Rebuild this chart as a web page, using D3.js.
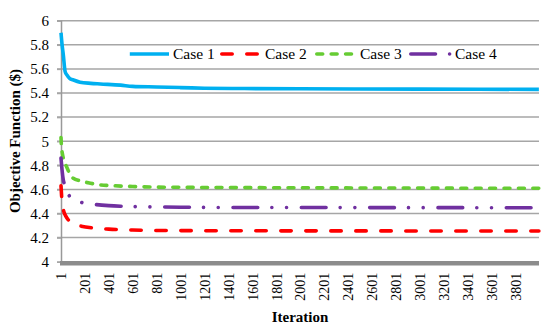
<!DOCTYPE html>
<html><head><meta charset="utf-8">
<script src="https://cdn.jsdelivr.net/npm/d3@7"></script>
<style>body{margin:0;background:#fff}svg{display:block}</style>
</head><body><svg id="c" width="550" height="332"></svg>
<script>
const seriesNames = ["Case 1", "Case 2", "Case 3", "Case 4"];
const case1Iter = [1, 10, 20, 35, 50, 75, 100, 160, 250, 330, 500, 600, 800, 1000, 1200, 1500, 2000, 2500, 3000, 3500, 4000];
const case1Vals = [5.90, 5.80, 5.72, 5.58, 5.55, 5.52, 5.51, 5.49, 5.48, 5.475, 5.465, 5.455, 5.45, 5.445, 5.44, 5.437, 5.435, 5.433, 5.432, 5.431, 5.43];
const case2Iter = [1, 8, 15, 25, 40, 60, 100, 170, 270, 400, 600, 1000, 2000, 4000];
const case2Vals = [4.63, 4.52, 4.46, 4.415, 4.38, 4.35, 4.315, 4.295, 4.28, 4.27, 4.263, 4.258, 4.256, 4.255];
const case3Iter = [1, 5, 12, 25, 47, 89, 104, 159, 229, 326, 450, 600, 900, 1500, 2500, 4000];
const case3Vals = [5.03, 4.95, 4.90, 4.84, 4.79, 4.705, 4.692, 4.672, 4.655, 4.638, 4.630, 4.624, 4.618, 4.615, 4.612, 4.609];
const case4Iter = [1, 10, 20, 34, 50, 75, 120, 168, 285, 400, 500, 700, 1000, 1500, 2500, 4000];
const case4Vals = [4.86, 4.76, 4.68, 4.635, 4.59, 4.54, 4.51, 4.493, 4.475, 4.465, 4.46, 4.456, 4.452, 4.45, 4.449, 4.448];
const yTicks = [4, 4.2, 4.4, 4.6, 4.8, 5, 5.2, 5.4, 5.6, 5.8, 6];
const xTickLabels = [1, 201, 401, 601, 801, 1001, 1201, 1401, 1601, 1801, 2001, 2201, 2401, 2601, 2801, 3001, 3201, 3401, 3601, 3801];

const styles = [
  {color: "#00B0F0", dash: null},
  {color: "#FF0000", dash: "10.4,14.6"},
  {color: "#66CC33", dash: "5.9,8.5"},
  {color: "#7030A0", dash: "24.7,14.1,0.01,14.7,0.01,14.8"}
];
const series = [
  {iter: case1Iter, vals: case1Vals},
  {iter: case2Iter, vals: case2Vals},
  {iter: case3Iter, vals: case3Vals},
  {iter: case4Iter, vals: case4Vals}
];

const svg = d3.select("#c");
const L = 61, R = 539, T = 20.7, B = 261.7;
const x = d3.scaleLinear().domain([1, 4001]).range([L, R]);
const y = d3.scaleLinear().domain([4, 6]).range([B, T]);
const font = "'Liberation Serif','Times New Roman',serif";

// gridlines
svg.append("g").selectAll("line").data(yTicks.filter(d => d > 4)).join("line")
  .attr("x1", L - 4).attr("x2", R).attr("y1", d => y(d)).attr("y2", d => y(d))
  .attr("stroke", "#a6a6a6").attr("stroke-width", 1.5);

// y axis
const yAxis = d3.axisLeft(y).tickValues(yTicks).tickFormat(d3.format("~g")).tickSize(4).tickPadding(8);
const ga = svg.append("g").attr("transform", `translate(${L},0)`).call(yAxis);
ga.select(".domain").attr("stroke", "#999").attr("stroke-width", 1.5);
ga.selectAll(".tick line").attr("stroke", "#a6a6a6").attr("stroke-width", 1.5);
ga.selectAll("text").attr("font-family", font).attr("font-size", 15).attr("fill", "#000");

// x axis labels
const xAxis = d3.axisBottom(x).tickValues(xTickLabels).tickFormat(d3.format("d")).tickSize(0).tickPadding(0);
const gx = svg.append("g").attr("transform", `translate(0,${B})`).call(xAxis);
gx.select(".domain").remove();
gx.selectAll("text").attr("font-family", font).attr("font-size", 14).attr("fill", "#000")
  .attr("text-anchor", "end").attr("transform", "translate(0,11) rotate(-90)")
  .attr("dx", 0).attr("dy", "0.35em").attr("y", 0).attr("x", 0);

// lines
const line = d3.line().x(d => x(d[0])).y(d => y(d[1])).curve(d3.curveMonotoneX);
series.forEach((s, i) => {
  const pts = s.iter.map((it, k) => [it, s.vals[k]]);
  svg.append("path").datum(pts).attr("d", line)
    .attr("fill", "none").attr("stroke", styles[i].color).attr("stroke-width", 3.6)
    .attr("stroke-linecap", styles[i].dash ? "round" : "butt").attr("stroke-linejoin", "round")
    .attr("stroke-dasharray", styles[i].dash);
});

// thick bottom axis
svg.append("line").attr("x1", L - 1).attr("x2", R).attr("y1", B + 1.5).attr("y2", B + 1.5)
  .attr("stroke", "#8c8c8c").attr("stroke-width", 4.5);

// legend
const legX = [128, 220, 315, 409];
const lg = svg.append("g");
seriesNames.forEach((n, i) => {
  lg.append("line").attr("x1", legX[i] + 1.8).attr("x2", legX[i] + 41).attr("y1", 54).attr("y2", 54)
    .attr("stroke", styles[i].color).attr("stroke-width", 3.6)
    .attr("stroke-linecap", styles[i].dash ? "round" : "butt")
    .attr("stroke-dasharray", styles[i].dash);
  lg.append("text").attr("x", legX[i] + 45 + (i === 3 ? 1 : 0)).attr("y", 54).attr("dy", "0.35em")
    .attr("font-family", font).attr("font-size", 15.5).text(n);
});

// titles
svg.append("text").attr("x", 300).attr("y", 322).attr("text-anchor", "middle")
  .attr("font-family", font).attr("font-size", 15).attr("font-weight", "bold").text("Iteration");
svg.append("text").attr("transform", "translate(20,141) rotate(-90)").attr("text-anchor", "middle")
  .attr("font-family", font).attr("font-size", 15).attr("font-weight", "bold").text("Objective Function ($)");
</script></body></html>
